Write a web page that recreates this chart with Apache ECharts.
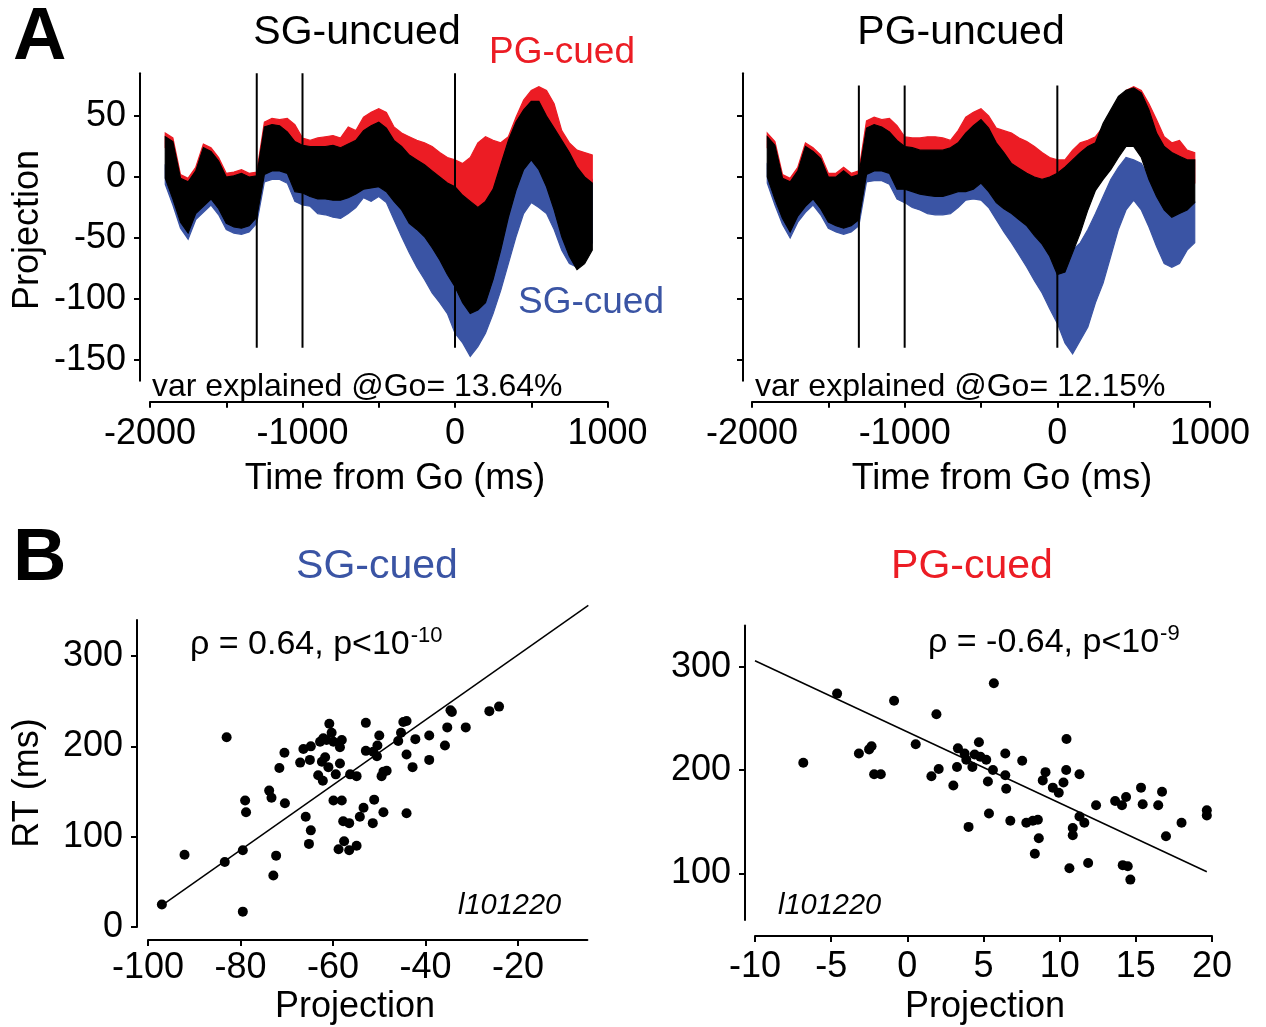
<!DOCTYPE html>
<html><head><meta charset="utf-8">
<script src="https://cdn.jsdelivr.net/npm/echarts@6/dist/echarts.min.js"></script>
<style>html,body{margin:0;padding:0;background:#fff}#c{width:1266px;height:1027px}</style>
</head><body><div id="c"></div>
<script>
// ---------- DATA ----------
const timeMs = [-1900,-1850,-1800,-1750,-1700,-1650,-1600,-1550,-1500,-1450,-1400,-1350,-1300,
  -1250,-1200,-1150,-1100,-1050,-1000,
  -950,-900,-850,-800,-750,-700,-650,-600,-550,-500,-450,-400,-350,-300,-250,-200,-150,-100,-50,0,
  50,100,150,200,250,300,350,400,450,500,550,600,650,700,750,800,850,900];
const eventTimes = [-1300, -1000, 0];

// Panel A left (SG-uncued): envelopes of the trace bundles
const sgRedHi = [36,32,2,-1,8,27,24,16,3,4,6,3,4, 45,48,47,48,43,32,
  30,32,33,34,32,41,38,49,53,56,53,41,36,33,30,28,25,20,16,14,
  11,16,28,33,30,28,33,49,63,71,74,71,60,38,28,22,20,18];
const sgRedLo = [24,20,-10,-13,-4,15,12,4,-9,-8,-6,-9,-8, 15,18,18,15,10,5,
  5,5,5,5,5,8,10,12,15,15,12,8,8,5,0,-5,-10,-15,-22,-30,
  -33,-33,-30,-27,-16,-5,6,20,33,38,38,30,16,3,-5,-7,-7,-5];
const sgBlueHi = [8,-9,-28,-37,-21,-15,-9,-17,-29,-32,-33,-31,-24, 12,12,10,8,2,-2,
  -3,-5,-5,-5,-6,-5,-3,0,-3,-6,-8,-11,-12,-13,-20,-27,-35,-43,-45,-45,
  -49,-60,-65,-65,-54,-38,-16,0,16,25,20,8,0,-8,-11,-8,-5,-2];
const sgBlueLo = [-6,-23,-42,-51,-35,-29,-23,-31,-43,-46,-47,-45,-38, -4,-2,-2,-5,-20,-23,
  -24,-30,-31,-33,-34,-30,-25,-17,-20,-16,-21,-35,-49,-62,-74,-84,-95,-103,-112,-128,
  -136,-147,-139,-128,-112,-93,-71,-49,-30,-21,-25,-30,-43,-60,-71,-74,-65,-54];
const sgBlackHi = [33,29,-1,-4,5,24,21,13,0,1,3,0,1, 41,43,42,37,29,26,
  25,25,25,26,24,27,30,38,42,45,40,30,25,18,14,10,5,0,-5,-8,
  -15,-20,-25,-20,-10,10,30,45,55,62,62,50,40,30,20,8,0,-5];
const sgBlackLo = [-1,-18,-37,-46,-30,-24,-18,-26,-38,-41,-42,-40,-33, 2,5,5,3,-12,-13,
  -16,-18,-18,-19,-19,-17,-14,-10,-9,-8,-12,-20,-27,-38,-43,-49,-58,-68,-80,-90,
  -103,-112,-109,-103,-84,-60,-33,-11,6,14,6,-8,-27,-49,-65,-76,-71,-60];

// Panel A right (PG-uncued)
const pgRedHi = [36,29,2,-1,8,28,24,18,3,3,8,3,5, 46,49,47,48,42,33,
  32,32,33,33,32,30,38,49,53,56,50,40,38,36,32,29,25,20,16,14,
  14,22,28,30,33,41,49,63,71,74,71,60,47,33,28,30,22,20];
const pgRedLo = [24,17,-10,-13,-4,16,12,6,-9,-9,-4,-9,-7, 16,19,18,16,12,10,
  10,10,10,10,10,12,12,15,18,18,15,12,10,8,5,2,0,-5,-12,-21,
  -27,-30,-21,-16,-8,0,11,22,33,38,36,25,14,3,-5,-8,-8,-5];
const pgBlueHi = [9,-9,-25,-36,-23,-15,-9,-17,-28,-31,-33,-31,-26, 12,12,10,8,4,3,
  2,0,0,-2,-2,0,0,-2,-3,-5,-5,-5,-8,-13,-18,-24,-32,-41,-45,-43,
  -54,-60,-54,-43,-30,-16,-2,8,16,14,11,0,-11,-21,-27,-27,-25,-21];
const pgBlueLo = [-5,-23,-39,-50,-37,-29,-23,-31,-42,-45,-47,-45,-40, -4,-3,-3,-6,-18,-21,
  -25,-27,-30,-31,-31,-30,-25,-19,-18,-19,-25,-35,-45,-54,-64,-74,-85,-95,-108,-120,
  -136,-145,-134,-123,-103,-87,-65,-43,-27,-19,-27,-41,-57,-71,-74,-71,-60,-54];
const pgBlackHi = [33,26,-1,-4,5,25,21,15,0,0,5,0,2, 40,43,41,37,30,25,
  24,22,22,22,22,24,28,36,42,47,40,28,20,11,7,3,0,-2,0,3,
  8,14,20,25,28,44,55,66,71,73,69,55,36,25,20,17,14,14];
const pgBlackLo = [0,-18,-34,-45,-32,-24,-18,-26,-37,-40,-42,-40,-35, 2,5,5,3,-10,-10,
  -12,-14,-15,-16,-16,-14,-12,-12,-10,-5,-12,-21,-26,-30,-35,-40,-48,-55,-65,-80,
  -78,-62,-46,-27,-11,-2,6,16,25,25,16,-2,-16,-27,-33,-30,-27,-21];

// Panel B left (SG-cued): projection vs RT
const sgProj = [-97.0,-92.1,-83.0,-83.4,-79.5,-79.5,-79.0,-78.8,-72.9,-72.3,-73.8,-73.3,-70.4,-71.6,-70.5,
  -67.1,-66.4,-65.0,-64.8,-65.9,-64.8,-65.2,-62.8,-62.1,-60.8,-60.3,-61.4,-59.9,-58.5,-58.1,
  -61.7,-62.4,-61.0,-58.5,-63.2,-62.2,-59.4,-56.3,-54.9,-59.9,-58.1,-57.8,-56.5,-57.6,-58.8,
  -56.5,-54.9,-54.2,-53.4,-51.4,-51.1,-49.1,-52.9,-52.9,-51.3,-50.4,-50.5,-50.0,-49.1,-48.4,
  -49.5,-45.9,-45.3,-44.8,-44.1,-44.1,-44.1,-42.8,-42.2,-39.2,-39.2,-35.8,-35.3,-34.6,-34.3,
  -31.3,-26.2,-24.1,-4.6];
const sgRT = [25,80,210,72,85,17,140,127,57,79,151,143,137,176,193,
  182,197,185,200,122,107,92,205,209,225,215,207,205,199,207,
  188,183,177,181,168,162,169,169,167,140,140,117,115,95,86,
  85,90,122,132,115,141,127,226,195,194,201,189,212,172,173,
  167,206,215,227,228,191,126,177,208,212,185,201,221,240,238,
  221,239,244,307];
const sgFit = [[-97, 24], [-4.8, 356]];

// Panel B right (PG-cued)
const pgProj = [-6.83,-4.61,-3.18,-2.51,-2.35,-2.18,-1.74,-0.87,0.55,1.58,2.06,1.91,3.02,3.26,3.32,
  3.76,3.87,4.02,4.27,4.42,4.70,4.79,5.18,5.29,5.36,5.62,5.68,6.43,6.43,6.49,
  6.76,7.54,7.81,8.24,8.57,8.63,8.37,8.89,9.07,9.55,9.94,10.25,10.43,10.45,10.64,
  10.86,10.86,11.30,11.30,11.62,11.87,12.39,13.64,14.09,14.36,14.14,14.47,14.64,15.34,15.45,
  16.47,16.72,16.98,18.00,19.66,19.66];
const pgRT = [207,274,216,220,223,196,196,267,225,194,201,254,185,203,221,
  216,210,145,203,215,227,213,210,189,158,200,284,216,195,182,
  151,209,149,151,152,134,119,190,198,183,178,188,200,230,105,
  144,137,196,155,149,110,166,170,166,174,108,107,94,183,167,
  166,179,136,149,161,156];
const pgFit = [[-10, 305.8], [19.66, 101.6]];

// tick labels
const aTimeTicks = [-2000, -1000, 0, 1000];
const aTimeMinorTicks = [-2000, -1500, -1000, -500, 0, 500, 1000];
const aProjTicks = [-150, -100, -50, 0, 50];
const bSgProjTicks = [-100, -80, -60, -40, -20];
const bPgProjTicks = [-10, -5, 0, 5, 10, 15, 20];
const bSgRTTicks = [0, 100, 200, 300];
const bPgRTTicks = [100, 200, 300];

// ---------- CHART ----------
const FONT = '"Liberation Sans", Arial, Helvetica, sans-serif';
const RED = '#EC1C24', BLUE = '#3A54A4';
const plain = v => String(v);

function xAx(grid, min, max, interval, offset, ticks, labelTicks, margin) {
  return {type:'value', gridIndex:grid, min, max, interval, offset,
    splitLine:{show:false},
    axisLine:{show:true, onZero:false, lineStyle:{color:'#000', width:2}},
    axisTick:{show:true, inside:false, length:6, customValues:ticks, lineStyle:{color:'#000', width:2}},
    axisLabel:{show:true, customValues:labelTicks, formatter:plain, color:'#000', fontSize:36, fontFamily:FONT, margin}};
}
function yAx(grid, min, max, offset, ticks, showLabels) {
  return {type:'value', gridIndex:grid, min, max, offset,
    splitLine:{show:false},
    axisLine:{show:true, onZero:false, lineStyle:{color:'#000', width:2}},
    axisTick:{show:true, inside:false, length:6, customValues:ticks, lineStyle:{color:'#000', width:2}},
    axisLabel:{show:showLabels, customValues:ticks, formatter:plain, color:'#000', fontSize:36, fontFamily:FONT, margin:14}};
}
function band(grid, lo, hi, color, z) {
  return {type:'custom', xAxisIndex:grid, yAxisIndex:grid, z, silent:true, clip:false,
    data: timeMs.map((t,i)=>[t, lo[i], hi[i]]),
    encode:{x:0, y:[1,2]},
    renderItem:function(params, api){
      if (params.dataIndex !== 0) return null;
      const pts = [];
      for (let i=0;i<timeMs.length;i++) pts.push(api.coord([timeMs[i], hi[i]]));
      for (let i=timeMs.length-1;i>=0;i--) pts.push(api.coord([timeMs[i], lo[i]]));
      return {type:'polygon', shape:{points:pts}, style:{fill:color, stroke:color, lineWidth:1.2}};
    }};
}
function eventLines(grid, top, bottom) {
  return eventTimes.map(t => ({type:'line', xAxisIndex:grid, yAxisIndex:grid, z:10, silent:true,
    symbol:'none', data:[[t, top],[t, bottom]], lineStyle:{color:'#000', width:2}}));
}

const series = [
  band(0, sgBlueLo, sgBlueHi, BLUE, 1),
  band(0, sgRedLo, sgRedHi, RED, 2),
  band(0, sgBlackLo, sgBlackHi, '#000', 3),
  ...eventLines(0, 85, -140),
  band(1, pgBlueLo, pgBlueHi, BLUE, 1),
  band(1, pgRedLo, pgRedHi, RED, 2),
  band(1, pgBlackLo, pgBlackHi, '#000', 3),
  ...eventLines(1, 75, -140),
  {type:'scatter', xAxisIndex:2, yAxisIndex:2, symbolSize:10, itemStyle:{color:'#000', opacity:1},
    data: sgProj.map((p,i)=>[p, sgRT[i]]), z:5},
  {type:'line', xAxisIndex:2, yAxisIndex:2, symbol:'none', clip:false, data:sgFit,
    lineStyle:{color:'#000', width:1.5}, z:4},
  {type:'scatter', xAxisIndex:3, yAxisIndex:3, symbolSize:10, itemStyle:{color:'#000', opacity:1},
    data: pgProj.map((p,i)=>[p, pgRT[i]]), z:5},
  {type:'line', xAxisIndex:3, yAxisIndex:3, symbol:'none', clip:false, data:pgFit,
    lineStyle:{color:'#000', width:1.5}, z:4}
];

function txt(x, y, text, size, color, opts) {
  opts = opts || {};
  return {type:'text', x, y, rotation: opts.rot || 0, z:20, silent:true,
    style:{text, fill:color || '#000', font:(opts.style||'') + ' ' + (opts.weight||'normal') + ' ' + size + 'px ' + FONT,
      align: opts.align || 'center', verticalAlign:'middle', textAlign: opts.align || 'center', textVerticalAlign:'middle'}};
}
function rho(x, y, main, sup) {
  return {type:'text', x, y, z:20, silent:true,
    style:{text:'{m|' + main + '}{s|' + sup + '}', align:'left', verticalAlign:'middle',
      rich:{m:{fontSize:34, fontFamily:FONT, fill:'#000', lineHeight:40},
            s:{fontSize:22, fontFamily:FONT, fill:'#000', verticalAlign:'top', lineHeight:40, padding:[0,0,0,1]}}}};
}

const graphics = [
  txt(13, 39, 'A', 74, '#000', {align:'left', weight:'bold'}),
  txt(13, 560, 'B', 74, '#000', {align:'left', weight:'bold'}),
  txt(357, 33, 'SG-uncued', 41),
  txt(961, 33, 'PG-uncued', 41),
  txt(562, 53, 'PG-cued', 37, RED),
  txt(591, 303, 'SG-cued', 37, BLUE),
  txt(152, 387, 'var explained @Go= 13.64%', 32, '#000', {align:'left'}),
  txt(755, 387, 'var explained @Go= 12.15%', 32, '#000', {align:'left'}),
  txt(395, 479, 'Time from Go (ms)', 36),
  txt(1002, 479, 'Time from Go (ms)', 36),
  txt(28, 230, 'Projection', 36, '#000', {rot:Math.PI/2}),
  txt(377, 567, 'SG-cued', 41, BLUE),
  txt(972, 567, 'PG-cued', 41, RED),
  rho(190, 645, 'ρ = 0.64, p<10', '-10'),
  rho(928, 643, 'ρ = -0.64, p<10', '-9'),
  txt(458, 906, 'l101220', 29, '#000', {align:'left', style:'italic'}),
  txt(778, 906, 'l101220', 29, '#000', {align:'left', style:'italic'}),
  txt(28, 783, 'RT (ms)', 36, '#000', {rot:Math.PI/2}),
  txt(355, 1007, 'Projection', 36),
  txt(985, 1007, 'Projection', 36)
];

const option = {
  animation:false,
  backgroundColor:'#fff',
  grid:[
    {left:150, top:73.3, width:457.5, height:307.4},
    {left:752, top:73.3, width:458, height:307.4},
    {left:148, top:619.9, width:439.4, height:307.1},
    {left:755, top:625.4, width:457, height:294.5}
  ],
  xAxis:[
    xAx(0, -2000, 1000, 500, 21, aTimeMinorTicks, aTimeTicks, 14),
    xAx(1, -2000, 1000, 500, 21, aTimeMinorTicks, aTimeTicks, 14),
    xAx(2, -100, -5, 20, 13, bSgProjTicks, bSgProjTicks, 10),
    xAx(3, -10, 20, 5, 16, bPgProjTicks, bPgProjTicks, 13)
  ],
  yAxis:[
    yAx(0, -167, 85, 10, aProjTicks, true),
    yAx(1, -167, 85, 9, aProjTicks, false),
    yAx(2, 0, 340, 11, bSgRTTicks, true),
    yAx(3, 55, 340, 10, bPgRTTicks, true)
  ],
  series,
  graphic:{elements:graphics}
};
const chart = echarts.init(document.getElementById('c'), null, {renderer:'canvas'});
chart.setOption(option);
</script></body></html>
